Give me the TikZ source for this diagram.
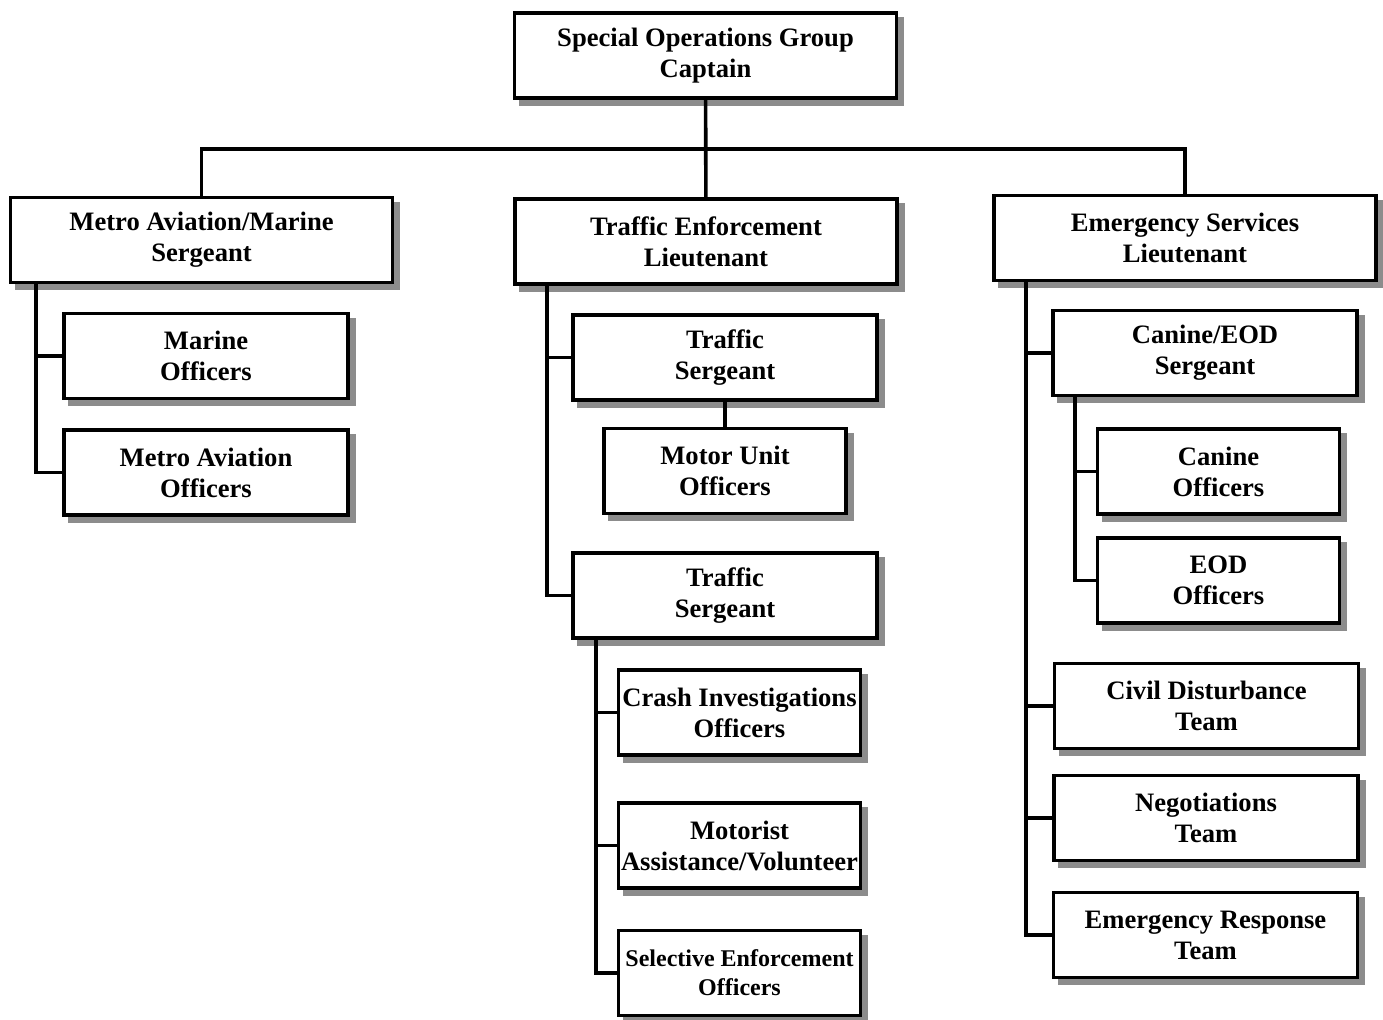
\documentclass[tikz,border=0pt]{standalone}
\usepackage{fontspec}
\setmainfont{Liberation Serif}
\usetikzlibrary{positioning, shadows, calc}
\definecolor{cshadow}{HTML}{8C8C8C}
\tikzset{
  every picture/.style={line width=1.8pt},
  box/.style={draw, fill=white, align=center, inner sep=0pt, minimum width=#1, minimum height=42.5pt,
    font=\fontsize{13.3}{15.5}\selectfont\bfseries,
    drop shadow={shadow xshift=3pt, shadow yshift=-3pt, fill=cshadow, draw=cshadow, opacity=1}},
  box/.default=191pt,
  small/.style={font=\fontsize{12}{14.5}\selectfont\bfseries},
}

\begin{document}
\begin{tikzpicture}[x=0.5pt, y=-0.5pt]
  \useasboundingbox (0,0) rectangle (1383,1020);
  \node[box] (top) at (705.5,55.5) {Special Operations Group\\Captain};
  \node[box] (metro) at (201.5,240) {Metro Aviation/Marine\\Sergeant};
  \node[box] (traf) at (706,241.5) {Traffic Enforcement\\Lieutenant};
  \node[box] (emerg) at (1185,238) {Emergency Services\\Lieutenant};

  \node[box=142pt] (marine) at (206,356) {Marine\\Officers};
  \node[box=142pt] (aviat) at (206,472.5) {Metro Aviation\\Officers};

  \node[box=152pt] (tsgt1) at (725,357.5) {Traffic\\Sergeant};
  \node[box=121pt, below=12.5pt of tsgt1] (motor) {Motor Unit\\Officers};
  \node[box=152pt] (tsgt2) at (725,595.5) {Traffic\\Sergeant};
  \node[box=121pt] (crash) at (739.5,712.5) {Crash Investigations\\Officers};
  \node[box=121pt] (assist) at (739.5,845.5) {Motorist\\Assistance/Volunteer};
  \node[box=121pt, small] (select) at (739.5,973) {Selective Enforcement\\Officers};

  \node[box=152pt] (ksgt) at (1205,353) {Canine/EOD\\Sergeant};
  \node[box=121pt] (canine) at (1218.5,471.5) {Canine\\Officers};
  \node[box=121pt] (eod) at (1218.5,580.5) {EOD\\Officers};
  \node[box=152pt] (civil) at (1206.5,706) {Civil Disturbance\\Team};
  \node[box=152pt] (negot) at (1206,818) {Negotiations\\Team};
  \node[box=152pt] (ert) at (1205.5,935) {Emergency Response\\Team};

  \coordinate (bar) at (706,149);
  \draw (top) -- (traf);
  \draw (metro) |- (bar) -| (emerg);

  \draw ([xshift=13.5pt]metro.south west) |- (marine);
  \draw ([xshift=13.5pt]metro.south west) |- (aviat);

  \draw ([xshift=17pt]traf.south west) |- (tsgt1);
  \draw ([xshift=17pt]traf.south west) |- (tsgt2);
  \draw (tsgt1) -- (motor);
  \draw ([xshift=12.5pt]tsgt2.south west) |- (crash);
  \draw ([xshift=12.5pt]tsgt2.south west) |- (assist);
  \draw ([xshift=12.5pt]tsgt2.south west) |- (select);

  \draw ([xshift=17pt]emerg.south west) |- (ksgt);
  \draw ([xshift=17pt]emerg.south west) |- (civil);
  \draw ([xshift=17pt]emerg.south west) |- (negot);
  \draw ([xshift=17pt]emerg.south west) |- (ert);
  \draw ([xshift=12pt]ksgt.south west) |- (canine);
  \draw ([xshift=12pt]ksgt.south west) |- (eod);
\end{tikzpicture}
\end{document}
